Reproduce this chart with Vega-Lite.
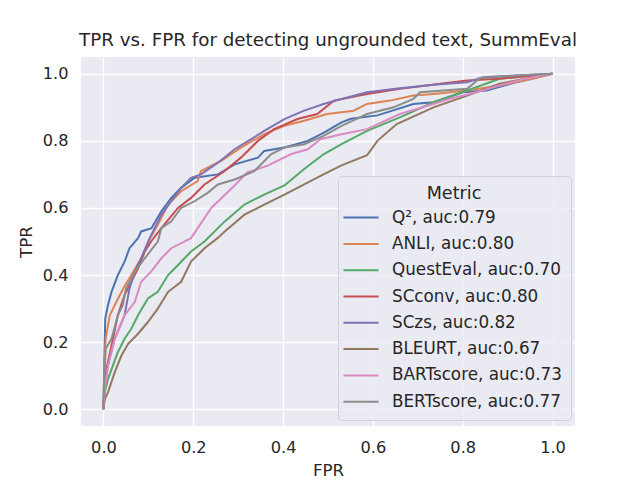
{
  "$schema": "https://vega.github.io/schema/vega-lite/v6.json",
  "autosize": {"type": "none"},
  "padding": {"left": 81, "top": 57, "right": 65, "bottom": 54},
  "width": 494,
  "height": 369,
  "background": "white",
  "title": {"text": "TPR vs. FPR for detecting ungrounded text, SummEval", "anchor": "middle", "frame": "group", "offset": 7, "font": "DejaVu Sans", "fontSize": 18.3, "fontWeight": "normal", "color": "#262626"},
  "data": {"values": [
    {"Metric":"Q², auc:0.79","i":0,"FPR":0,"TPR":0},
    {"Metric":"Q², auc:0.79","i":1,"FPR":0.002,"TPR":0.15},
    {"Metric":"Q², auc:0.79","i":2,"FPR":0.004,"TPR":0.27},
    {"Metric":"Q², auc:0.79","i":3,"FPR":0.01,"TPR":0.31},
    {"Metric":"Q², auc:0.79","i":4,"FPR":0.018,"TPR":0.35},
    {"Metric":"Q², auc:0.79","i":5,"FPR":0.032,"TPR":0.40},
    {"Metric":"Q², auc:0.79","i":6,"FPR":0.047,"TPR":0.44},
    {"Metric":"Q², auc:0.79","i":7,"FPR":0.058,"TPR":0.48},
    {"Metric":"Q², auc:0.79","i":8,"FPR":0.077,"TPR":0.51},
    {"Metric":"Q², auc:0.79","i":9,"FPR":0.084,"TPR":0.53},
    {"Metric":"Q², auc:0.79","i":10,"FPR":0.107,"TPR":0.54},
    {"Metric":"Q², auc:0.79","i":11,"FPR":0.129,"TPR":0.59},
    {"Metric":"Q², auc:0.79","i":12,"FPR":0.151,"TPR":0.63},
    {"Metric":"Q², auc:0.79","i":13,"FPR":0.173,"TPR":0.66},
    {"Metric":"Q², auc:0.79","i":14,"FPR":0.203,"TPR":0.69},
    {"Metric":"Q², auc:0.79","i":15,"FPR":0.255,"TPR":0.70},
    {"Metric":"Q², auc:0.79","i":16,"FPR":0.292,"TPR":0.73},
    {"Metric":"Q², auc:0.79","i":17,"FPR":0.344,"TPR":0.75},
    {"Metric":"Q², auc:0.79","i":18,"FPR":0.358,"TPR":0.77},
    {"Metric":"Q², auc:0.79","i":19,"FPR":0.403,"TPR":0.78},
    {"Metric":"Q², auc:0.79","i":20,"FPR":0.455,"TPR":0.80},
    {"Metric":"Q², auc:0.79","i":21,"FPR":0.492,"TPR":0.825},
    {"Metric":"Q², auc:0.79","i":22,"FPR":0.53,"TPR":0.855},
    {"Metric":"Q², auc:0.79","i":23,"FPR":0.551,"TPR":0.866},
    {"Metric":"Q², auc:0.79","i":24,"FPR":0.61,"TPR":0.876},
    {"Metric":"Q², auc:0.79","i":25,"FPR":0.69,"TPR":0.91},
    {"Metric":"Q², auc:0.79","i":26,"FPR":0.735,"TPR":0.915},
    {"Metric":"Q², auc:0.79","i":27,"FPR":0.80,"TPR":0.945},
    {"Metric":"Q², auc:0.79","i":28,"FPR":0.853,"TPR":0.95},
    {"Metric":"Q², auc:0.79","i":29,"FPR":0.92,"TPR":0.975},
    {"Metric":"Q², auc:0.79","i":30,"FPR":1,"TPR":1},

    {"Metric":"ANLI, auc:0.80","i":0,"FPR":0,"TPR":0},
    {"Metric":"ANLI, auc:0.80","i":1,"FPR":0.002,"TPR":0.12},
    {"Metric":"ANLI, auc:0.80","i":2,"FPR":0.005,"TPR":0.21},
    {"Metric":"ANLI, auc:0.80","i":3,"FPR":0.014,"TPR":0.28},
    {"Metric":"ANLI, auc:0.80","i":4,"FPR":0.025,"TPR":0.31},
    {"Metric":"ANLI, auc:0.80","i":5,"FPR":0.044,"TPR":0.36},
    {"Metric":"ANLI, auc:0.80","i":6,"FPR":0.062,"TPR":0.40},
    {"Metric":"ANLI, auc:0.80","i":7,"FPR":0.084,"TPR":0.45},
    {"Metric":"ANLI, auc:0.80","i":8,"FPR":0.10,"TPR":0.50},
    {"Metric":"ANLI, auc:0.80","i":9,"FPR":0.121,"TPR":0.55},
    {"Metric":"ANLI, auc:0.80","i":10,"FPR":0.144,"TPR":0.61},
    {"Metric":"ANLI, auc:0.80","i":11,"FPR":0.173,"TPR":0.65},
    {"Metric":"ANLI, auc:0.80","i":12,"FPR":0.21,"TPR":0.68},
    {"Metric":"ANLI, auc:0.80","i":13,"FPR":0.217,"TPR":0.71},
    {"Metric":"ANLI, auc:0.80","i":14,"FPR":0.262,"TPR":0.74},
    {"Metric":"ANLI, auc:0.80","i":15,"FPR":0.306,"TPR":0.78},
    {"Metric":"ANLI, auc:0.80","i":16,"FPR":0.358,"TPR":0.82},
    {"Metric":"ANLI, auc:0.80","i":17,"FPR":0.403,"TPR":0.845},
    {"Metric":"ANLI, auc:0.80","i":18,"FPR":0.447,"TPR":0.86},
    {"Metric":"ANLI, auc:0.80","i":19,"FPR":0.498,"TPR":0.88},
    {"Metric":"ANLI, auc:0.80","i":20,"FPR":0.557,"TPR":0.89},
    {"Metric":"ANLI, auc:0.80","i":21,"FPR":0.587,"TPR":0.91},
    {"Metric":"ANLI, auc:0.80","i":22,"FPR":0.638,"TPR":0.92},
    {"Metric":"ANLI, auc:0.80","i":23,"FPR":0.69,"TPR":0.935},
    {"Metric":"ANLI, auc:0.80","i":24,"FPR":0.735,"TPR":0.94},
    {"Metric":"ANLI, auc:0.80","i":25,"FPR":0.81,"TPR":0.95},
    {"Metric":"ANLI, auc:0.80","i":26,"FPR":0.882,"TPR":0.965},
    {"Metric":"ANLI, auc:0.80","i":27,"FPR":0.956,"TPR":0.985},
    {"Metric":"ANLI, auc:0.80","i":28,"FPR":1,"TPR":1},

    {"Metric":"QuestEval, auc:0.70","i":0,"FPR":0,"TPR":0},
    {"Metric":"QuestEval, auc:0.70","i":1,"FPR":0.003,"TPR":0.05},
    {"Metric":"QuestEval, auc:0.70","i":2,"FPR":0.01,"TPR":0.09},
    {"Metric":"QuestEval, auc:0.70","i":3,"FPR":0.032,"TPR":0.17},
    {"Metric":"QuestEval, auc:0.70","i":4,"FPR":0.047,"TPR":0.21},
    {"Metric":"QuestEval, auc:0.70","i":5,"FPR":0.062,"TPR":0.24},
    {"Metric":"QuestEval, auc:0.70","i":6,"FPR":0.077,"TPR":0.28},
    {"Metric":"QuestEval, auc:0.70","i":7,"FPR":0.099,"TPR":0.33},
    {"Metric":"QuestEval, auc:0.70","i":8,"FPR":0.121,"TPR":0.35},
    {"Metric":"QuestEval, auc:0.70","i":9,"FPR":0.144,"TPR":0.40},
    {"Metric":"QuestEval, auc:0.70","i":10,"FPR":0.166,"TPR":0.43},
    {"Metric":"QuestEval, auc:0.70","i":11,"FPR":0.195,"TPR":0.47},
    {"Metric":"QuestEval, auc:0.70","i":12,"FPR":0.225,"TPR":0.50},
    {"Metric":"QuestEval, auc:0.70","i":13,"FPR":0.27,"TPR":0.56},
    {"Metric":"QuestEval, auc:0.70","i":14,"FPR":0.314,"TPR":0.61},
    {"Metric":"QuestEval, auc:0.70","i":15,"FPR":0.358,"TPR":0.64},
    {"Metric":"QuestEval, auc:0.70","i":16,"FPR":0.403,"TPR":0.667},
    {"Metric":"QuestEval, auc:0.70","i":17,"FPR":0.447,"TPR":0.716},
    {"Metric":"QuestEval, auc:0.70","i":18,"FPR":0.49,"TPR":0.76},
    {"Metric":"QuestEval, auc:0.70","i":19,"FPR":0.53,"TPR":0.79},
    {"Metric":"QuestEval, auc:0.70","i":20,"FPR":0.587,"TPR":0.83},
    {"Metric":"QuestEval, auc:0.70","i":21,"FPR":0.66,"TPR":0.87},
    {"Metric":"QuestEval, auc:0.70","i":22,"FPR":0.735,"TPR":0.915},
    {"Metric":"QuestEval, auc:0.70","i":23,"FPR":0.81,"TPR":0.95},
    {"Metric":"QuestEval, auc:0.70","i":24,"FPR":0.882,"TPR":0.985},
    {"Metric":"QuestEval, auc:0.70","i":25,"FPR":0.956,"TPR":0.995},
    {"Metric":"QuestEval, auc:0.70","i":26,"FPR":1,"TPR":1},

    {"Metric":"SCconv, auc:0.80","i":0,"FPR":0,"TPR":0},
    {"Metric":"SCconv, auc:0.80","i":1,"FPR":0.002,"TPR":0.06},
    {"Metric":"SCconv, auc:0.80","i":2,"FPR":0.005,"TPR":0.11},
    {"Metric":"SCconv, auc:0.80","i":3,"FPR":0.018,"TPR":0.19},
    {"Metric":"SCconv, auc:0.80","i":4,"FPR":0.032,"TPR":0.28},
    {"Metric":"SCconv, auc:0.80","i":5,"FPR":0.047,"TPR":0.34},
    {"Metric":"SCconv, auc:0.80","i":6,"FPR":0.062,"TPR":0.38},
    {"Metric":"SCconv, auc:0.80","i":7,"FPR":0.077,"TPR":0.42},
    {"Metric":"SCconv, auc:0.80","i":8,"FPR":0.092,"TPR":0.47},
    {"Metric":"SCconv, auc:0.80","i":9,"FPR":0.106,"TPR":0.50},
    {"Metric":"SCconv, auc:0.80","i":10,"FPR":0.129,"TPR":0.54},
    {"Metric":"SCconv, auc:0.80","i":11,"FPR":0.166,"TPR":0.60},
    {"Metric":"SCconv, auc:0.80","i":12,"FPR":0.195,"TPR":0.63},
    {"Metric":"SCconv, auc:0.80","i":13,"FPR":0.225,"TPR":0.67},
    {"Metric":"SCconv, auc:0.80","i":14,"FPR":0.27,"TPR":0.71},
    {"Metric":"SCconv, auc:0.80","i":15,"FPR":0.306,"TPR":0.75},
    {"Metric":"SCconv, auc:0.80","i":16,"FPR":0.344,"TPR":0.80},
    {"Metric":"SCconv, auc:0.80","i":17,"FPR":0.38,"TPR":0.835},
    {"Metric":"SCconv, auc:0.80","i":18,"FPR":0.432,"TPR":0.865},
    {"Metric":"SCconv, auc:0.80","i":19,"FPR":0.476,"TPR":0.88},
    {"Metric":"SCconv, auc:0.80","i":20,"FPR":0.513,"TPR":0.92},
    {"Metric":"SCconv, auc:0.80","i":21,"FPR":0.587,"TPR":0.94},
    {"Metric":"SCconv, auc:0.80","i":22,"FPR":0.66,"TPR":0.955},
    {"Metric":"SCconv, auc:0.80","i":23,"FPR":0.75,"TPR":0.97},
    {"Metric":"SCconv, auc:0.80","i":24,"FPR":0.81,"TPR":0.98},
    {"Metric":"SCconv, auc:0.80","i":25,"FPR":0.88,"TPR":0.985},
    {"Metric":"SCconv, auc:0.80","i":26,"FPR":0.956,"TPR":0.995},
    {"Metric":"SCconv, auc:0.80","i":27,"FPR":1,"TPR":1},

    {"Metric":"SCzs, auc:0.82","i":0,"FPR":0,"TPR":0},
    {"Metric":"SCzs, auc:0.82","i":1,"FPR":0.003,"TPR":0.07},
    {"Metric":"SCzs, auc:0.82","i":2,"FPR":0.01,"TPR":0.13},
    {"Metric":"SCzs, auc:0.82","i":3,"FPR":0.025,"TPR":0.21},
    {"Metric":"SCzs, auc:0.82","i":4,"FPR":0.047,"TPR":0.28},
    {"Metric":"SCzs, auc:0.82","i":5,"FPR":0.058,"TPR":0.36},
    {"Metric":"SCzs, auc:0.82","i":6,"FPR":0.07,"TPR":0.41},
    {"Metric":"SCzs, auc:0.82","i":7,"FPR":0.084,"TPR":0.45},
    {"Metric":"SCzs, auc:0.82","i":8,"FPR":0.103,"TPR":0.51},
    {"Metric":"SCzs, auc:0.82","i":9,"FPR":0.129,"TPR":0.58},
    {"Metric":"SCzs, auc:0.82","i":10,"FPR":0.151,"TPR":0.62},
    {"Metric":"SCzs, auc:0.82","i":11,"FPR":0.173,"TPR":0.66},
    {"Metric":"SCzs, auc:0.82","i":12,"FPR":0.195,"TPR":0.69},
    {"Metric":"SCzs, auc:0.82","i":13,"FPR":0.217,"TPR":0.70},
    {"Metric":"SCzs, auc:0.82","i":14,"FPR":0.255,"TPR":0.735},
    {"Metric":"SCzs, auc:0.82","i":15,"FPR":0.292,"TPR":0.775},
    {"Metric":"SCzs, auc:0.82","i":16,"FPR":0.329,"TPR":0.805},
    {"Metric":"SCzs, auc:0.82","i":17,"FPR":0.358,"TPR":0.83},
    {"Metric":"SCzs, auc:0.82","i":18,"FPR":0.403,"TPR":0.865},
    {"Metric":"SCzs, auc:0.82","i":19,"FPR":0.447,"TPR":0.89},
    {"Metric":"SCzs, auc:0.82","i":20,"FPR":0.49,"TPR":0.91},
    {"Metric":"SCzs, auc:0.82","i":21,"FPR":0.53,"TPR":0.925},
    {"Metric":"SCzs, auc:0.82","i":22,"FPR":0.587,"TPR":0.945},
    {"Metric":"SCzs, auc:0.82","i":23,"FPR":0.66,"TPR":0.957},
    {"Metric":"SCzs, auc:0.82","i":24,"FPR":0.735,"TPR":0.967},
    {"Metric":"SCzs, auc:0.82","i":25,"FPR":0.81,"TPR":0.975},
    {"Metric":"SCzs, auc:0.82","i":26,"FPR":0.845,"TPR":0.99},
    {"Metric":"SCzs, auc:0.82","i":27,"FPR":0.92,"TPR":0.995},
    {"Metric":"SCzs, auc:0.82","i":28,"FPR":1,"TPR":1},

    {"Metric":"BLEURT, auc:0.67","i":0,"FPR":0,"TPR":0},
    {"Metric":"BLEURT, auc:0.67","i":1,"FPR":0.003,"TPR":0.03},
    {"Metric":"BLEURT, auc:0.67","i":2,"FPR":0.01,"TPR":0.05},
    {"Metric":"BLEURT, auc:0.67","i":3,"FPR":0.025,"TPR":0.11},
    {"Metric":"BLEURT, auc:0.67","i":4,"FPR":0.04,"TPR":0.16},
    {"Metric":"BLEURT, auc:0.67","i":5,"FPR":0.055,"TPR":0.195},
    {"Metric":"BLEURT, auc:0.67","i":6,"FPR":0.077,"TPR":0.225},
    {"Metric":"BLEURT, auc:0.67","i":7,"FPR":0.099,"TPR":0.26},
    {"Metric":"BLEURT, auc:0.67","i":8,"FPR":0.121,"TPR":0.30},
    {"Metric":"BLEURT, auc:0.67","i":9,"FPR":0.144,"TPR":0.35},
    {"Metric":"BLEURT, auc:0.67","i":10,"FPR":0.173,"TPR":0.38},
    {"Metric":"BLEURT, auc:0.67","i":11,"FPR":0.195,"TPR":0.44},
    {"Metric":"BLEURT, auc:0.67","i":12,"FPR":0.225,"TPR":0.48},
    {"Metric":"BLEURT, auc:0.67","i":13,"FPR":0.254,"TPR":0.51},
    {"Metric":"BLEURT, auc:0.67","i":14,"FPR":0.27,"TPR":0.53},
    {"Metric":"BLEURT, auc:0.67","i":15,"FPR":0.314,"TPR":0.58},
    {"Metric":"BLEURT, auc:0.67","i":16,"FPR":0.358,"TPR":0.61},
    {"Metric":"BLEURT, auc:0.67","i":17,"FPR":0.403,"TPR":0.64},
    {"Metric":"BLEURT, auc:0.67","i":18,"FPR":0.447,"TPR":0.67},
    {"Metric":"BLEURT, auc:0.67","i":19,"FPR":0.49,"TPR":0.70},
    {"Metric":"BLEURT, auc:0.67","i":20,"FPR":0.53,"TPR":0.727},
    {"Metric":"BLEURT, auc:0.67","i":21,"FPR":0.587,"TPR":0.757},
    {"Metric":"BLEURT, auc:0.67","i":22,"FPR":0.61,"TPR":0.80},
    {"Metric":"BLEURT, auc:0.67","i":23,"FPR":0.653,"TPR":0.85},
    {"Metric":"BLEURT, auc:0.67","i":24,"FPR":0.735,"TPR":0.90},
    {"Metric":"BLEURT, auc:0.67","i":25,"FPR":0.81,"TPR":0.935},
    {"Metric":"BLEURT, auc:0.67","i":26,"FPR":0.882,"TPR":0.97},
    {"Metric":"BLEURT, auc:0.67","i":27,"FPR":0.956,"TPR":0.99},
    {"Metric":"BLEURT, auc:0.67","i":28,"FPR":1,"TPR":1},

    {"Metric":"BARTscore, auc:0.73","i":0,"FPR":0,"TPR":0},
    {"Metric":"BARTscore, auc:0.73","i":1,"FPR":0.003,"TPR":0.06},
    {"Metric":"BARTscore, auc:0.73","i":2,"FPR":0.01,"TPR":0.13},
    {"Metric":"BARTscore, auc:0.73","i":3,"FPR":0.025,"TPR":0.21},
    {"Metric":"BARTscore, auc:0.73","i":4,"FPR":0.047,"TPR":0.28},
    {"Metric":"BARTscore, auc:0.73","i":5,"FPR":0.07,"TPR":0.32},
    {"Metric":"BARTscore, auc:0.73","i":6,"FPR":0.084,"TPR":0.38},
    {"Metric":"BARTscore, auc:0.73","i":7,"FPR":0.106,"TPR":0.41},
    {"Metric":"BARTscore, auc:0.73","i":8,"FPR":0.129,"TPR":0.45},
    {"Metric":"BARTscore, auc:0.73","i":9,"FPR":0.151,"TPR":0.48},
    {"Metric":"BARTscore, auc:0.73","i":10,"FPR":0.195,"TPR":0.51},
    {"Metric":"BARTscore, auc:0.73","i":11,"FPR":0.24,"TPR":0.60},
    {"Metric":"BARTscore, auc:0.73","i":12,"FPR":0.292,"TPR":0.667},
    {"Metric":"BARTscore, auc:0.73","i":13,"FPR":0.32,"TPR":0.706},
    {"Metric":"BARTscore, auc:0.73","i":14,"FPR":0.366,"TPR":0.726},
    {"Metric":"BARTscore, auc:0.73","i":15,"FPR":0.417,"TPR":0.76},
    {"Metric":"BARTscore, auc:0.73","i":16,"FPR":0.455,"TPR":0.775},
    {"Metric":"BARTscore, auc:0.73","i":17,"FPR":0.483,"TPR":0.805},
    {"Metric":"BARTscore, auc:0.73","i":18,"FPR":0.53,"TPR":0.82},
    {"Metric":"BARTscore, auc:0.73","i":19,"FPR":0.587,"TPR":0.835},
    {"Metric":"BARTscore, auc:0.73","i":20,"FPR":0.66,"TPR":0.88},
    {"Metric":"BARTscore, auc:0.73","i":21,"FPR":0.735,"TPR":0.91},
    {"Metric":"BARTscore, auc:0.73","i":22,"FPR":0.77,"TPR":0.925},
    {"Metric":"BARTscore, auc:0.73","i":23,"FPR":0.83,"TPR":0.945},
    {"Metric":"BARTscore, auc:0.73","i":24,"FPR":0.882,"TPR":0.965},
    {"Metric":"BARTscore, auc:0.73","i":25,"FPR":0.94,"TPR":0.985},
    {"Metric":"BARTscore, auc:0.73","i":26,"FPR":1,"TPR":1},

    {"Metric":"BERTscore, auc:0.77","i":0,"FPR":0,"TPR":0},
    {"Metric":"BERTscore, auc:0.77","i":1,"FPR":0.002,"TPR":0.10},
    {"Metric":"BERTscore, auc:0.77","i":2,"FPR":0.005,"TPR":0.18},
    {"Metric":"BERTscore, auc:0.77","i":3,"FPR":0.018,"TPR":0.21},
    {"Metric":"BERTscore, auc:0.77","i":4,"FPR":0.032,"TPR":0.28},
    {"Metric":"BERTscore, auc:0.77","i":5,"FPR":0.043,"TPR":0.31},
    {"Metric":"BERTscore, auc:0.77","i":6,"FPR":0.05,"TPR":0.36},
    {"Metric":"BERTscore, auc:0.77","i":7,"FPR":0.07,"TPR":0.41},
    {"Metric":"BERTscore, auc:0.77","i":8,"FPR":0.092,"TPR":0.45},
    {"Metric":"BERTscore, auc:0.77","i":9,"FPR":0.121,"TPR":0.50},
    {"Metric":"BERTscore, auc:0.77","i":10,"FPR":0.129,"TPR":0.54},
    {"Metric":"BERTscore, auc:0.77","i":11,"FPR":0.151,"TPR":0.56},
    {"Metric":"BERTscore, auc:0.77","i":12,"FPR":0.173,"TPR":0.60},
    {"Metric":"BERTscore, auc:0.77","i":13,"FPR":0.203,"TPR":0.62},
    {"Metric":"BERTscore, auc:0.77","i":14,"FPR":0.232,"TPR":0.645},
    {"Metric":"BERTscore, auc:0.77","i":15,"FPR":0.255,"TPR":0.67},
    {"Metric":"BERTscore, auc:0.77","i":16,"FPR":0.292,"TPR":0.685},
    {"Metric":"BERTscore, auc:0.77","i":17,"FPR":0.336,"TPR":0.71},
    {"Metric":"BERTscore, auc:0.77","i":18,"FPR":0.373,"TPR":0.76},
    {"Metric":"BERTscore, auc:0.77","i":19,"FPR":0.403,"TPR":0.78},
    {"Metric":"BERTscore, auc:0.77","i":20,"FPR":0.447,"TPR":0.79},
    {"Metric":"BERTscore, auc:0.77","i":21,"FPR":0.49,"TPR":0.815},
    {"Metric":"BERTscore, auc:0.77","i":22,"FPR":0.53,"TPR":0.845},
    {"Metric":"BERTscore, auc:0.77","i":23,"FPR":0.587,"TPR":0.88},
    {"Metric":"BERTscore, auc:0.77","i":24,"FPR":0.646,"TPR":0.90},
    {"Metric":"BERTscore, auc:0.77","i":25,"FPR":0.69,"TPR":0.925},
    {"Metric":"BERTscore, auc:0.77","i":26,"FPR":0.705,"TPR":0.945},
    {"Metric":"BERTscore, auc:0.77","i":27,"FPR":0.81,"TPR":0.955},
    {"Metric":"BERTscore, auc:0.77","i":28,"FPR":0.838,"TPR":0.987},
    {"Metric":"BERTscore, auc:0.77","i":29,"FPR":0.92,"TPR":0.995},
    {"Metric":"BERTscore, auc:0.77","i":30,"FPR":1,"TPR":1}
  ]},
  "mark": {"type": "line", "strokeWidth": 2, "clip": true},
  "encoding": {
    "x": {"field": "FPR", "type": "quantitative", "scale": {"domain": [-0.05, 1.05], "nice": false, "zero": false},
      "axis": {"values": [0, 0.2, 0.4, 0.6, 0.8, 1.0], "format": ".1f", "title": "FPR"}},
    "y": {"field": "TPR", "type": "quantitative", "scale": {"domain": [-0.05, 1.05], "nice": false, "zero": false},
      "axis": {"values": [0, 0.2, 0.4, 0.6, 0.8, 1.0], "format": ".1f", "title": "TPR"}},
    "order": {"field": "i", "type": "quantitative"},
    "color": {"field": "Metric", "type": "nominal",
      "scale": {"domain": ["Q², auc:0.79", "ANLI, auc:0.80", "QuestEval, auc:0.70", "SCconv, auc:0.80", "SCzs, auc:0.82", "BLEURT, auc:0.67", "BARTscore, auc:0.73", "BERTscore, auc:0.77"],
        "range": ["#4c72b0", "#dd8452", "#55a868", "#c44e52", "#8172b3", "#937860", "#da8bc3", "#8c8c8c"]},
      "legend": {"title": "Metric", "orient": "none", "legendX": 257, "legendY": 119, "symbolType": "M-1.35,0H1.35", "symbolSize": 676, "symbolStrokeWidth": 2}}
  },
  "config": {
    "view": {"fill": "#eaeaf2", "stroke": null},
    "axis": {"domain": false, "ticks": false, "grid": true, "gridColor": "#ffffff", "gridWidth": 1.3,
      "labelFont": "DejaVu Sans", "labelFontSize": 16.2, "labelColor": "#262626", "labelPadding": 13,
      "titleFont": "DejaVu Sans", "titleFontSize": 16.7, "titleColor": "#262626", "titleFontWeight": "normal", "titlePadding": 7},
    "legend": {"titleFont": "DejaVu Sans", "titleFontSize": 17.6, "titleFontWeight": "normal", "titleColor": "#262626", "titleAnchor": "middle", "titlePadding": 1,
      "labelFont": "DejaVu Sans", "labelFontSize": 16.8, "labelColor": "#262626", "labelLimit": 400,
      "fillColor": "rgba(234,234,242,0.8)", "strokeColor": "#d0d0d8", "cornerRadius": 4, "padding": 9, "rowPadding": 3.3, "labelOffset": 17}
  }
}
